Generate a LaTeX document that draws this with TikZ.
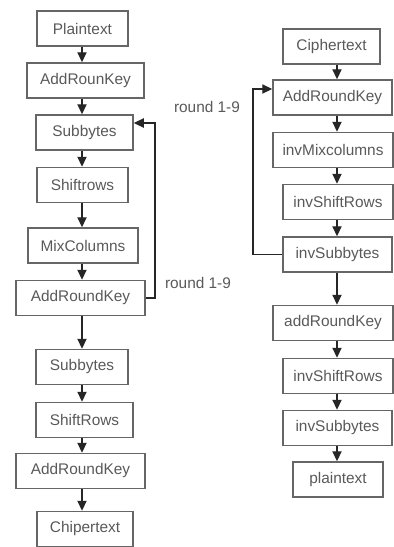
\documentclass[tikz,border=0pt]{standalone}
\usepackage{fontspec}
\setmainfont{Liberation Sans}
\usetikzlibrary{arrows.meta}

\tikzset{
  stage/.style={draw=black!60, line width=0.75pt, text=black!65, inner sep=0pt,
    minimum height=17.5pt, font=\fontsize{7.7}{9}\selectfont},
  flow/.style={draw=black!85, line width=0.65pt, -{Triangle[length=5pt,width=4.6pt]}},
  lbl/.style={text=black!65, inner sep=0pt, font=\fontsize{7.7}{9}\selectfont},
}

\begin{document}
\begin{tikzpicture}[x=0.5pt,y=-0.5pt]
  \useasboundingbox (0,0) rectangle (393,547);
  \coordinate (lx) at (82,0);
  \coordinate (rx) at (337,0);

  % encryption
  \node[stage, minimum width=45.5pt] (e0) at (82.5,28.5)  {Plaintext};
  \node[stage, minimum width=58.5pt] (e1) at (85.5,80.5)  {AddRounKey};
  \node[stage, minimum width=48.5pt] (e2) at (84.5,132.5) {Subbytes};
  \node[stage, minimum width=45.5pt] (e3) at (82.5,185)   {Shiftrows};
  \node[stage, minimum width=55pt]   (e4) at (83,245.5)   {MixColumns};
  \node[stage, minimum width=64.5pt] (e5) at (80.5,298)   {AddRoundKey};
  \node[stage, minimum width=46pt]   (e6) at (82,367)     {Subbytes};
  \node[stage, minimum width=48.5pt] (e7) at (84.5,420)   {ShiftRows};
  \node[stage, minimum width=64.5pt] (e8) at (80.5,471)   {AddRoundKey};
  \node[stage, minimum width=48pt]   (e9) at (85,529)     {Chipertext};

  \foreach \a/\b in {e0/e1,e1/e2,e2/e3,e3/e4,e4/e5,e5/e6,e6/e7,e7/e8,e8/e9}
    \draw[flow] (\a.south -| lx) -- (\b.north -| lx);

  \coordinate (eloop) at (155,123);
  \draw[flow] (e5.east) -| (eloop) -- (e2.east |- eloop);
  \node[lbl] (elbl) at (198,283) {round 1-9};

  % decryption
  \node[stage, minimum width=48.5pt] (d0) at (331.5,46.5) {Ciphertext};
  \node[stage, minimum width=59.5pt] (d1) at (332.5,97.5) {AddRoundKey};
  \node[stage, minimum width=60pt]   (d2) at (333,150)    {invMixcolumns};
  \node[stage, minimum width=55pt]   (d3) at (338,202)    {invShiftRows};
  \node[stage, minimum width=54.5pt] (d4) at (337.5,254.5){invSubbytes};
  \node[stage, minimum width=60pt]   (d5) at (333,323)    {addRoundKey};
  \node[stage, minimum width=55pt]   (d6) at (338,376)    {invShiftRows};
  \node[stage, minimum width=54.5pt] (d7) at (337.5,428)  {invSubbytes};
  \node[stage, minimum width=45pt]   (d8) at (338,479.5)  {plaintext};

  \foreach \a/\b in {d0/d1,d1/d2,d2/d3,d3/d4,d4/d5,d5/d6,d6/d7,d7/d8}
    \draw[flow] (\a.south -| rx) -- (\b.north -| rx);

  \coordinate (dloop) at (253,89);
  \draw[flow] (d4.west) -| (dloop) -- (d1.west |- dloop);
  \node[lbl] (dlbl) at (207,107) {round 1-9};
\end{tikzpicture}
\end{document}
